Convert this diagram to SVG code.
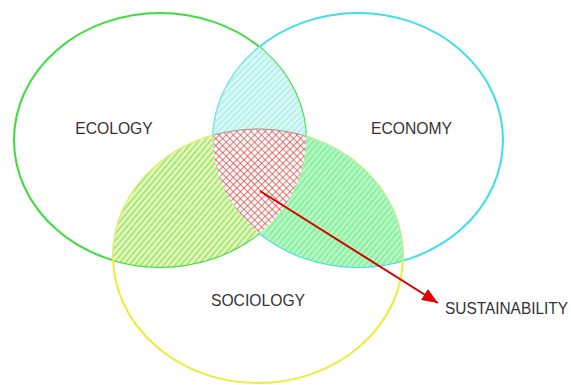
<svg xmlns="http://www.w3.org/2000/svg" width="571" height="385" viewBox="0 0 571 385">
<style>
.lbl{font-family:"Liberation Sans",Arial,sans-serif;font-size:15.7px;fill:#333333;text-anchor:middle}
.ring{fill:none;stroke-width:2}
</style>
<defs>
<ellipse id="eG" cx="160" cy="140" rx="146" ry="127"/>
<ellipse id="eC" cx="358" cy="140" rx="145" ry="127"/>
<ellipse id="eY" cx="258" cy="256" rx="145" ry="127"/>
<clipPath id="clipG"><use href="#eG"/></clipPath>
<clipPath id="clipC"><use href="#eC"/></clipPath>
<pattern id="hatchCyan" width="4.4" height="4.4" patternUnits="userSpaceOnUse" patternTransform="rotate(45)">
<rect width="4.4" height="4.4" fill="#d8f9f5"/>
<rect width="1.6" height="4.4" fill="#b0efea"/>
</pattern>
<pattern id="hatchYG" width="4.4" height="4.4" patternUnits="userSpaceOnUse" patternTransform="rotate(40)">
<rect width="4.4" height="4.4" fill="#f4f79a"/>
<rect width="1.8" height="4.4" fill="#8ee8a8"/>
</pattern>
<pattern id="hatchGreen" width="4.4" height="4.4" patternUnits="userSpaceOnUse" patternTransform="rotate(40)">
<rect width="4.4" height="4.4" fill="#b4f8d0"/>
<rect width="2" height="4.4" fill="#90f094"/>
</pattern>
<pattern id="cross" width="5" height="5" patternUnits="userSpaceOnUse" patternTransform="rotate(45)">
<rect width="5" height="5" fill="#fff8f8"/>
<rect width="0.7" height="5" fill="#d04848"/>
<rect width="5" height="0.7" fill="#d04848"/>
</pattern>
<marker id="arrow" markerUnits="userSpaceOnUse" markerWidth="17" markerHeight="13" refX="16" refY="6.5" orient="auto">
<path d="M0,0 L16,6.5 L0,13 Z" fill="#e00000"/>
</marker>
</defs>
<g id="circles">
<use href="#eG" class="ring" stroke="#3ddc3d"/>
<use href="#eC" class="ring" stroke="#3ee0e6"/>
<use href="#eY" class="ring" stroke="#ecec3a"/>
</g>
<g id="overlaps">
<g clip-path="url(#clipG)"><use href="#eC" fill="url(#hatchCyan)" stroke="#9ce8e4" stroke-width="1"/></g>
<g clip-path="url(#clipG)"><use href="#eY" fill="url(#hatchYG)" stroke="#d8ec90" stroke-width="1"/></g>
<g clip-path="url(#clipC)"><use href="#eY" fill="url(#hatchGreen)" stroke="#a8ecd8" stroke-width="1"/></g>
<g clip-path="url(#clipG)"><g clip-path="url(#clipC)"><use href="#eY" fill="url(#cross)" stroke="#b09090" stroke-width="1"/></g></g>
</g>
<g id="ecology"><text class="lbl" x="114" y="134">ECOLOGY</text></g>
<g id="economy"><text class="lbl" x="411.5" y="134">ECONOMY</text></g>
<g id="sociology"><text class="lbl" x="258" y="306">SOCIOLOGY</text></g>
<g id="sustainability"><text x="445" y="314" textLength="123" lengthAdjust="spacingAndGlyphs" style="font-family:'Liberation Sans',Arial,sans-serif;font-size:15.8px;fill:#333333">SUSTAINABILITY</text></g>
<g id="connectors">
<line x1="260" y1="191" x2="438" y2="303" stroke="#d40000" stroke-width="2" marker-end="url(#arrow)"/>
</g>
</svg>
